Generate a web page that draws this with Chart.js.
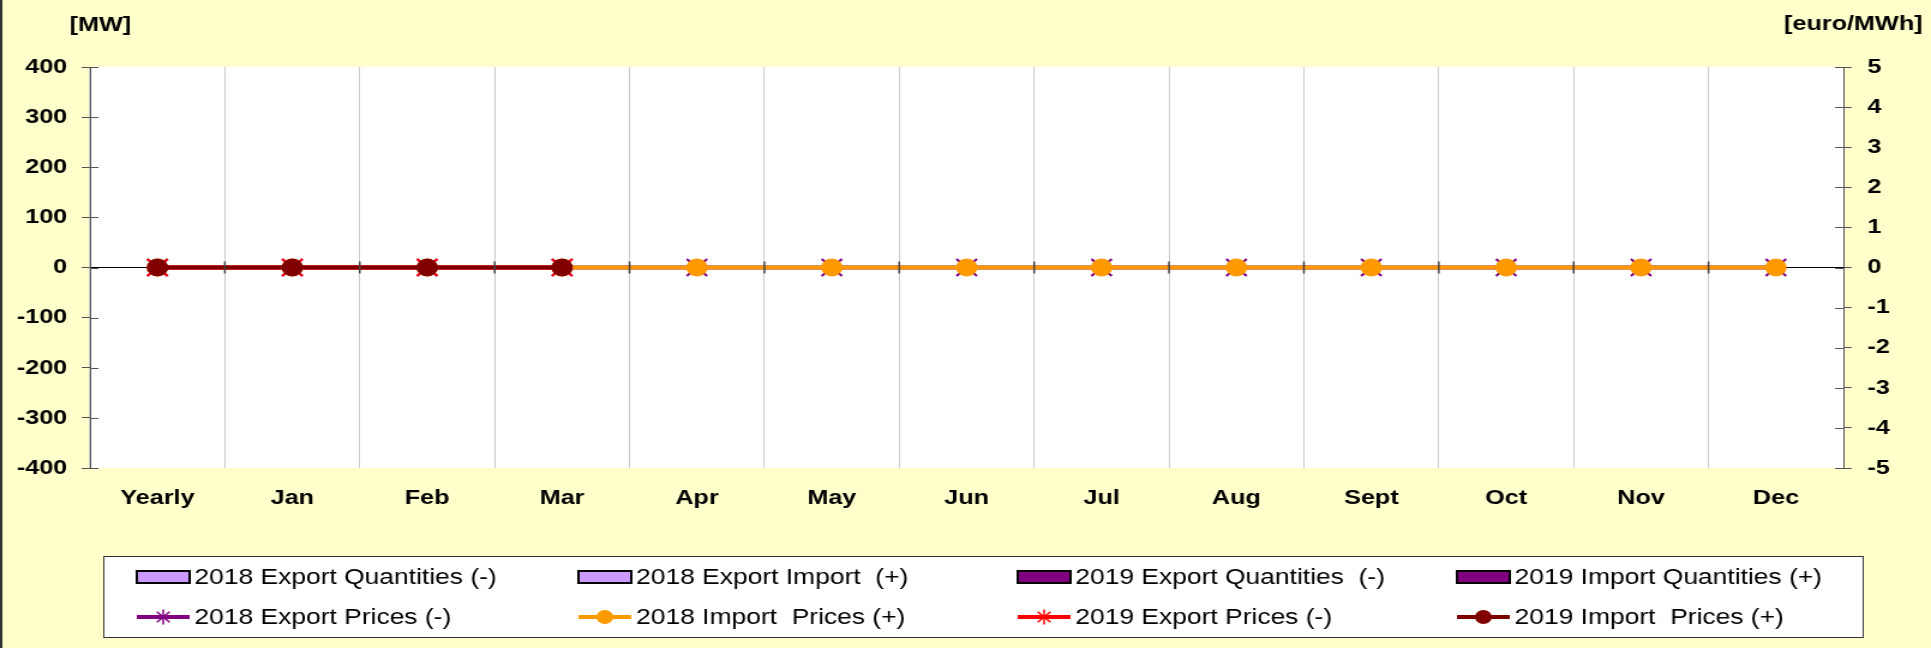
<!DOCTYPE html>
<html>
<head>
<meta charset="utf-8">
<script src="https://cdn.jsdelivr.net/npm/chart.js@4.4.0/dist/chart.umd.min.js"></script>
<style>
  html, body { margin: 0; padding: 0; background: #FFFFCC; overflow: hidden; }
</style>
</head>
<body>
<!-- drawn at 1609px and stretched to 1931px wide, like the original export -->
<canvas id="chart" width="1609" height="648" style="display:block;width:1931px;height:648px"></canvas>
<script>
const months = ['Yearly', 'Jan', 'Feb', 'Mar', 'Apr', 'May', 'Jun', 'Jul', 'Aug', 'Sept', 'Oct', 'Nov', 'Dec'];

const exportQty2018 = [0, 0, 0, 0, 0, 0, 0, 0, 0, 0, 0, 0, 0];
const importQty2018 = [0, 0, 0, 0, 0, 0, 0, 0, 0, 0, 0, 0, 0];
const exportQty2019 = [0, 0, 0, 0, null, null, null, null, null, null, null, null, null];
const importQty2019 = [0, 0, 0, 0, null, null, null, null, null, null, null, null, null];

const exportPrice2018 = [0, 0, 0, 0, 0, 0, 0, 0, 0, 0, 0, 0, 0];
const importPrice2018 = [0, 0, 0, 0, 0, 0, 0, 0, 0, 0, 0, 0, 0];
const exportPrice2019 = [0, 0, 0, 0, null, null, null, null, null, null, null, null, null];
const importPrice2019 = [0, 0, 0, 0, null, null, null, null, null, null, null, null, null];

const mwTicks = [-400, 400, 100];     // min, max, step
const priceTicks = [-5, 5, 1];

const axisFont = { family: '"Liberation Sans", Arial, sans-serif', size: 21, weight: 'bold' };
const legendFont = '22px "Liberation Sans", Arial, sans-serif';

const chartDecor = {
    id: 'chartDecor',
    beforeDraw(chart) {
        const { ctx, chartArea: a } = chart;
        ctx.save();
        ctx.fillStyle = '#FFFFCC';
        ctx.fillRect(0, 0, chart.width, chart.height);
        ctx.fillStyle = '#333333';
        ctx.fillRect(0, 0, 2, chart.height);
        ctx.fillStyle = '#FFFFFF';
        ctx.fillRect(a.left, a.top, a.right - a.left, a.bottom - a.top);
        ctx.restore();
    },
    afterDatasetsDraw(chart) {
        const { ctx, chartArea: a } = chart;
        const x = chart.scales.x, y = chart.scales.y, y1 = chart.scales.y1;
        const y0 = y.getPixelForValue(0);
        const step = (x.right - x.left) / months.length;
        ctx.save();
        ctx.strokeStyle = '#444444';
        ctx.lineWidth = 1.5;
        ctx.beginPath();
        // category axis crosses at zero, tick marks sit on it
        for (let i = 1; i < months.length; i++) {
            const px = x.left + i * step;
            ctx.moveTo(px, y0 - 6);
            ctx.lineTo(px, y0 + 6);
        }
        ctx.stroke();
        ctx.strokeStyle = '#555555';
        ctx.lineWidth = 1;
        ctx.beginPath();
        y.ticks.forEach(t => {
            const py = Math.round(y.getPixelForValue(t.value)) + 0.5;
            ctx.moveTo(a.left, py);
            ctx.lineTo(a.left + 7, py);
        });
        y1.ticks.forEach(t => {
            const py = Math.round(y1.getPixelForValue(t.value)) + 0.5;
            ctx.moveTo(a.right - 7, py);
            ctx.lineTo(a.right, py);
        });
        ctx.stroke();
        ctx.restore();
    },
    afterDraw(chart) {
        const ctx = chart.ctx;
        ctx.save();
        // unit labels
        ctx.fillStyle = '#000000';
        ctx.font = 'bold 21px "Liberation Sans", Arial, sans-serif';
        ctx.textBaseline = 'middle';
        ctx.textAlign = 'left';
        ctx.fillText('[MW]', 58, 25);
        ctx.textAlign = 'right';
        ctx.fillText('[euro/MWh]', 1602, 24);

        // legend box, 4 columns x 2 rows
        ctx.fillStyle = '#FFFFFF';
        ctx.fillRect(86, 556, 1466, 81);
        ctx.strokeStyle = '#333333';
        ctx.lineWidth = 1;
        ctx.strokeRect(86.5, 556.5, 1466, 81);

        const colX = [114, 482, 848, 1214];
        const rowY = [577, 617];
        chart.data.datasets.forEach((ds, i) => {
            const sx = colX[i % 4];
            const sy = rowY[Math.floor(i / 4)];
            if (ds.type === 'line') {
                ctx.strokeStyle = ds.borderColor;
                ctx.lineWidth = 4;
                ctx.beginPath();
                ctx.moveTo(sx, sy);
                ctx.lineTo(sx + 44, sy);
                ctx.stroke();
                const cx = sx + 22;
                if (ds.pointStyle === 'circle') {
                    ctx.fillStyle = ds.pointBackgroundColor;
                    ctx.beginPath();
                    ctx.arc(cx, sy, 7, 0, Math.PI * 2);
                    ctx.fill();
                } else {
                    ctx.lineWidth = 1.5;
                    ctx.beginPath();
                    for (let k = 0; k < 4; k++) {
                        const ang = k * Math.PI / 4;
                        ctx.moveTo(cx - Math.cos(ang) * 7.5, sy - Math.sin(ang) * 7.5);
                        ctx.lineTo(cx + Math.cos(ang) * 7.5, sy + Math.sin(ang) * 7.5);
                    }
                    ctx.stroke();
                }
            } else {
                ctx.fillStyle = ds.backgroundColor;
                ctx.fillRect(sx, sy - 6, 44, 12);
                ctx.strokeStyle = '#000000';
                ctx.lineWidth = 2;
                ctx.strokeRect(sx, sy - 6, 44, 12);
            }
            ctx.fillStyle = '#000000';
            ctx.font = legendFont;
            ctx.textAlign = 'left';
            ctx.textBaseline = 'middle';
            ctx.fillText(ds.label, sx + 48, sy + 1);
        });
        ctx.restore();
    }
};

const data = {
    labels: months,
    datasets: [{
        label: '2018 Export Quantities (-)',
        data: exportQty2018,
        backgroundColor: '#CC99FF',
        borderColor: '#000000',
        borderWidth: 1,
        yAxisID: 'y',
        order: 10
    }, {
        label: '2018 Export Import  (+)',
        data: importQty2018,
        backgroundColor: '#CC99FF',
        borderColor: '#000000',
        borderWidth: 1,
        yAxisID: 'y',
        order: 10
    }, {
        label: '2019 Export Quantities  (-)',
        data: exportQty2019,
        backgroundColor: '#800080',
        borderColor: '#000000',
        borderWidth: 1,
        yAxisID: 'y',
        order: 10
    }, {
        label: '2019 Import Quantities (+)',
        data: importQty2019,
        backgroundColor: '#800080',
        borderColor: '#000000',
        borderWidth: 1,
        yAxisID: 'y',
        order: 10
    }, {
        type: 'line',
        label: '2018 Export Prices (-)',
        data: exportPrice2018,
        borderColor: '#800080',
        borderWidth: 4,
        pointStyle: 'crossRot',
        pointRadius: 12,
        pointBorderColor: '#800080',
        pointBorderWidth: 2,
        yAxisID: 'y1',
        order: 4
    }, {
        type: 'line',
        label: '2018 Import  Prices (+)',
        data: importPrice2018,
        borderColor: '#FF9900',
        borderWidth: 4,
        pointStyle: 'circle',
        pointRadius: 8.5,
        pointBackgroundColor: '#FF9900',
        pointBorderColor: '#FF9900',
        pointBorderWidth: 1,
        yAxisID: 'y1',
        order: 3
    }, {
        type: 'line',
        label: '2019 Export Prices (-)',
        data: exportPrice2019,
        borderColor: '#FF0000',
        borderWidth: 4,
        pointStyle: 'crossRot',
        pointRadius: 12,
        pointBorderColor: '#FF0000',
        pointBorderWidth: 2,
        yAxisID: 'y1',
        order: 2
    }, {
        type: 'line',
        label: '2019 Import  Prices (+)',
        data: importPrice2019,
        borderColor: '#800000',
        borderWidth: 4,
        pointStyle: 'circle',
        pointRadius: 8.5,
        pointBackgroundColor: '#800000',
        pointBorderColor: '#800000',
        pointBorderWidth: 1,
        yAxisID: 'y1',
        order: 1
    }]
};

const config = {
    type: 'bar',
    data: data,
    plugins: [chartDecor],
    options: {
        responsive: false,
        devicePixelRatio: 1,
        animation: false,
        layout: { padding: { top: 67, left: 0, right: 0, bottom: 0 } },
        plugins: {
            legend: { display: false },
            tooltip: { enabled: false }
        },
        scales: {
            x: {
                afterFit(scale) { scale.height = 180; },
                grid: { offset: true, color: '#CCCCCC', lineWidth: 1, drawTicks: false },
                border: { display: false },
                ticks: { color: '#000000', font: axisFont, padding: 18, maxRotation: 0, autoSkip: false }
            },
            y: {
                position: 'left',
                min: mwTicks[0],
                max: mwTicks[1],
                afterFit(scale) { scale.width = 75; },
                grid: {
                    color: ctx => (ctx.tick && ctx.tick.value === 0 ? '#000000' : 'rgba(0,0,0,0)'),
                    tickColor: '#555555',
                    tickLength: 7,
                    lineWidth: 1
                },
                border: { color: '#555555', width: 1 },
                ticks: { stepSize: mwTicks[2], color: '#000000', font: axisFont, padding: 12 }
            },
            y1: {
                position: 'right',
                min: priceTicks[0],
                max: priceTicks[1],
                afterFit(scale) { scale.width = 73; },
                grid: { drawOnChartArea: false, tickColor: '#555555', tickLength: 7 },
                border: { color: '#555555', width: 1 },
                ticks: { stepSize: priceTicks[2], color: '#000000', font: axisFont, padding: 13 }
            }
        }
    }
};

new Chart(document.getElementById('chart'), config);
</script>
</body>
</html>
